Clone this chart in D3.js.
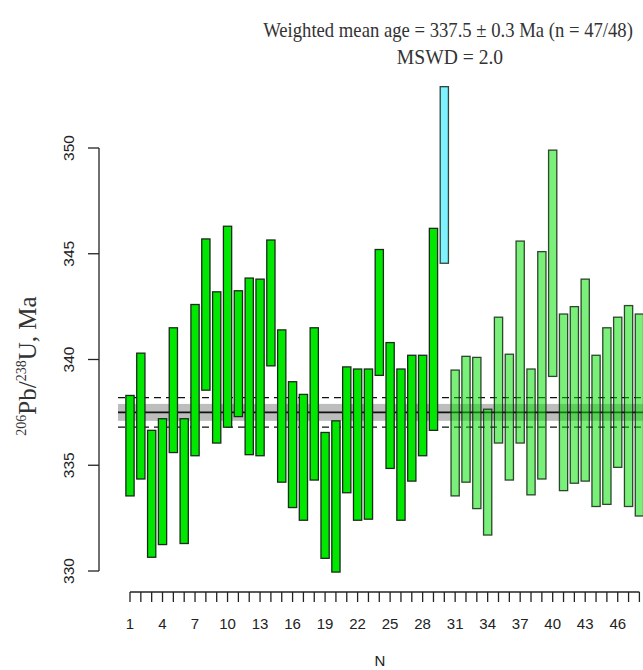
<!DOCTYPE html>
<html><head><meta charset="utf-8">
<script src="https://cdn.jsdelivr.net/npm/d3@7"></script>
<style>body{margin:0;background:#fff}</style>
</head><body>
<svg id="c" width="643" height="670"></svg>
<script>
// ---- data ----
const analysis = d3.range(1, 49);  // analysis numbers N = 1..48
const upper = [338.3, 340.3, 336.65, 337.2, 341.5, 337.2, 342.6, 345.7, 343.2, 346.3,
  343.25, 343.85, 343.8, 345.65, 341.4, 338.95, 338.35, 341.5, 336.55, 337.1,
  339.65, 339.55, 339.55, 345.2, 340.8, 339.55, 340.2, 340.2, 346.2, 352.9,
  339.5, 340.15, 340.1, 337.65, 342.0, 340.25, 345.6, 339.55, 345.1, 349.9,
  342.15, 342.5, 343.8, 340.2, 341.5, 342.0, 342.55, 342.15];
const lower = [333.55, 334.35, 330.65, 331.25, 335.6, 331.3, 335.45, 338.55, 336.05, 336.8,
  337.3, 335.5, 335.45, 339.7, 334.2, 333.0, 332.4, 334.3, 330.6, 329.95,
  333.7, 332.4, 332.45, 339.25, 334.85, 332.4, 334.25, 335.45, 336.65, 344.55,
  333.55, 334.2, 332.95, 331.7, 336.05, 334.3, 336.05, 333.6, 334.35, 339.2,
  333.8, 334.15, 334.25, 333.05, 333.15, 334.9, 333.05, 332.6];
// group: "A" first session, "R" rejected, "B" second session
const group = [
  "A","A","A","A","A","A","A","A","A","A","A","A","A","A","A","A","A","A","A","A",
  "A","A","A","A","A","A","A","A","A","R",
  "B","B","B","B","B","B","B","B","B","B","B","B","B","B","B","B","B","B"];
const meanAge = 337.5;
const meanBand = [337.1, 337.9];
const dashLevels = [338.2, 336.8];
const yTicks = [330, 335, 340, 345, 350];
const xTickLabels = [1, 4, 7, 10, 13, 16, 19, 22, 25, 28, 31, 34, 37, 40, 43, 46];
const titleLines = ["Weighted mean age = 337.5 \u00b1 0.3 Ma (n = 47/48)", "MSWD = 2.0"];

// ---- drawing ----
const svg = d3.select("#c");
const x = d3.scaleLinear().domain([1, 48]).range([130, 639.4]);
const y = d3.scaleLinear().domain([330, 350]).range([571, 148]);
const step = x(2) - x(1);
const bw = step * 0.76;
const fills = {A: "#00e800", R: "rgba(0,230,255,0.5)", B: "rgba(0,225,0,0.52)"};

const plotL = 118, plotR = 660;
// band
svg.append("rect").attr("x", plotL).attr("width", plotR - plotL)
  .attr("y", y(meanBand[1])).attr("height", y(meanBand[0]) - y(meanBand[1]))
  .attr("fill", "#bdbdbd");
svg.selectAll("line.dash").data(dashLevels).join("line")
  .attr("x1", plotL).attr("x2", plotR).attr("y1", d => y(d)).attr("y2", d => y(d))
  .attr("stroke", "#111").attr("stroke-width", 1.3).attr("stroke-dasharray", "7,5");
svg.append("line").attr("x1", plotL).attr("x2", plotR)
  .attr("y1", y(meanAge)).attr("y2", y(meanAge)).attr("stroke", "#111").attr("stroke-width", 1.6);

// bars
svg.selectAll("rect.bar").data(analysis).join("rect")
  .attr("class", "bar")
  .attr("x", d => x(d) - bw / 2).attr("width", bw)
  .attr("y", (d, i) => y(upper[i])).attr("height", (d, i) => y(lower[i]) - y(upper[i]))
  .attr("fill", (d, i) => fills[group[i]])
  .attr("stroke", (d, i) => group[i] === "A" ? "#1c2a1c" : "rgba(20,40,20,0.85)")
  .attr("stroke-width", 1.3);

// y axis
const yAxis = svg.append("g").attr("transform", "translate(99,0)");
yAxis.append("line").attr("x1", 0).attr("x2", 0).attr("y1", y(330)).attr("y2", y(350))
  .attr("stroke", "#222").attr("stroke-width", 1.3);
yAxis.selectAll("line.t").data(yTicks).join("line").attr("class", "t")
  .attr("x1", -11).attr("x2", 0).attr("y1", d => y(d)).attr("y2", d => y(d))
  .attr("stroke", "#222").attr("stroke-width", 1.3);
yAxis.selectAll("text").data(yTicks).join("text")
  .attr("transform", d => `translate(-25,${y(d)}) rotate(-90)`)
  .attr("text-anchor", "middle")
  .attr("font-family", "Liberation Sans, Arial, sans-serif").attr("font-size", 15.5)
  .attr("fill", "#222").text(d => d);

// x axis
const xAxis = svg.append("g").attr("transform", "translate(0,592)");
xAxis.append("line").attr("x1", x(1)).attr("x2", x(48)).attr("y1", 0).attr("y2", 0)
  .attr("stroke", "#222").attr("stroke-width", 1.3);
xAxis.selectAll("line.t").data(analysis).join("line").attr("class", "t")
  .attr("x1", d => x(d)).attr("x2", d => x(d)).attr("y1", 0).attr("y2", 10)
  .attr("stroke", "#222").attr("stroke-width", 1.3);
xAxis.selectAll("text").data(xTickLabels).join("text")
  .attr("x", d => x(d)).attr("y", 37).attr("text-anchor", "middle")
  .attr("font-family", "Liberation Sans, Arial, sans-serif").attr("font-size", 15)
  .attr("fill", "#222").text(d => d);
svg.append("text").attr("x", 380).attr("y", 666).attr("text-anchor", "middle")
  .attr("font-family", "Liberation Sans, Arial, sans-serif").attr("font-size", 15)
  .attr("fill", "#222").text("N");

// y title
const yt = svg.append("text").attr("transform", "translate(36,366) rotate(-90)")
  .attr("text-anchor", "middle")
  .attr("font-family", "Liberation Serif, Times New Roman, serif").attr("font-size", 25)
  .attr("fill", "#333");
yt.append("tspan").attr("font-size", 14).attr("dy", -10).text("206");
yt.append("tspan").attr("dy", 10).text("Pb/");
yt.append("tspan").attr("font-size", 14).attr("dy", -10).text("238");
yt.append("tspan").attr("dy", 10).text("U, Ma");

// title (narrow serif look: natural width fitted, stretched vertically)
const t1 = svg.append("text").attr("text-anchor", "middle")
  .attr("font-family", "Liberation Serif, Times New Roman, serif").attr("font-size", 20)
  .attr("fill", "#333").text(titleLines[0]);
const fs = 20 * 370 / t1.node().getComputedTextLength();
t1.attr("font-size", fs).attr("transform", "translate(448,37) scale(1,1.15)");
svg.append("text").attr("text-anchor", "middle")
  .attr("font-family", "Liberation Serif, Times New Roman, serif").attr("font-size", fs * 1.05)
  .attr("transform", "translate(450,64) scale(1,1.12)")
  .attr("fill", "#333").text(titleLines[1]);
</script>
</body></html>
